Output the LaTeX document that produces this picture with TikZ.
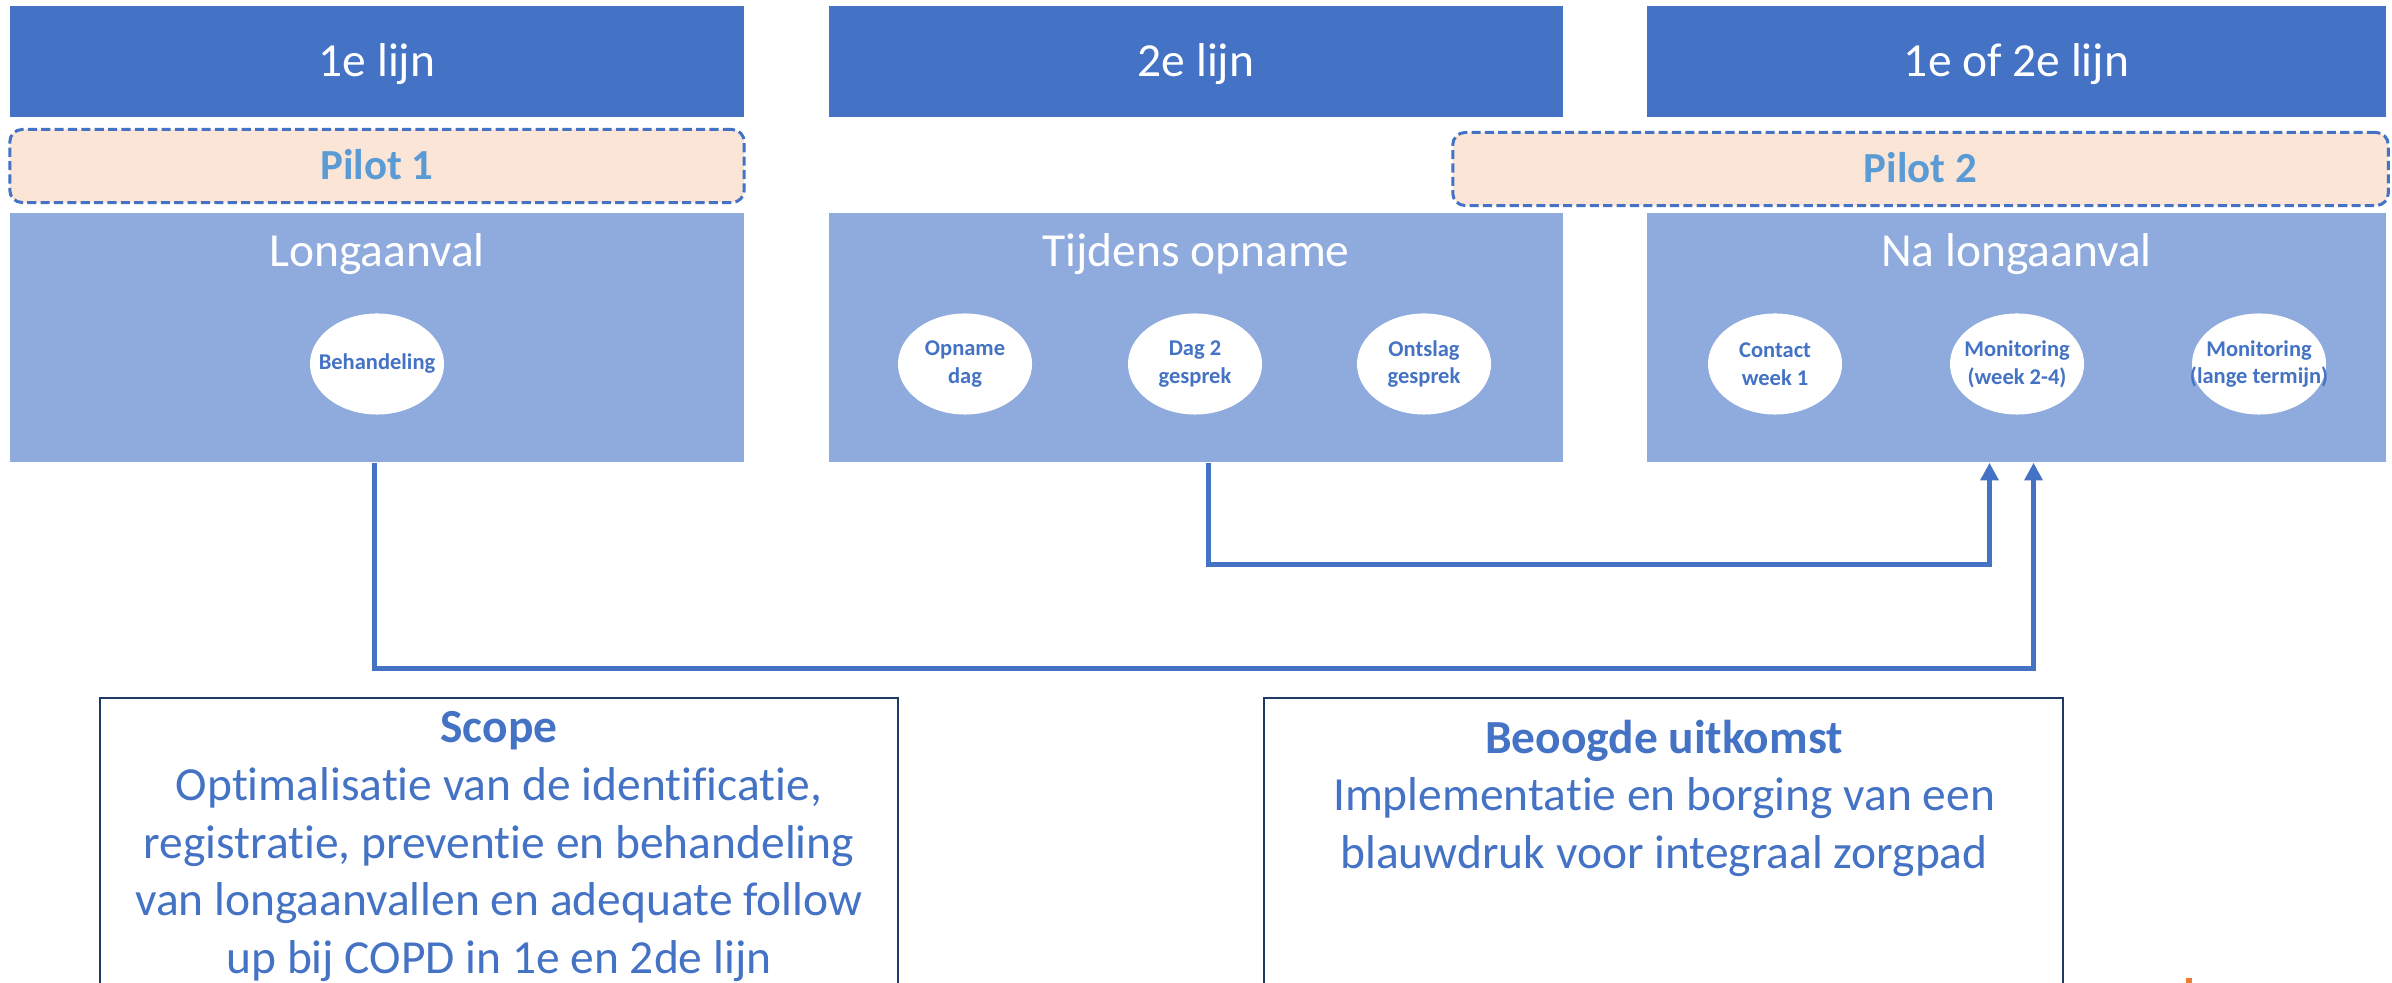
\documentclass[tikz,border=0pt]{standalone}
\usepackage{fontspec}
\setmainfont[Ligatures=NoCommon]{Carlito}
\usetikzlibrary{arrows.meta,shapes.geometric}
\definecolor{hdr}{RGB}{68,114,196}
\definecolor{cnt}{RGB}{143,170,220}
\definecolor{pfill}{RGB}{251,229,214}
\definecolor{ptext}{RGB}{91,155,213}
\definecolor{navy}{RGB}{32,56,100}
\definecolor{orng}{RGB}{237,125,49}
\newcommand{\zb}[1]{\makebox[0pt]{#1}}
\tikzset{
  hdrbox/.style={rectangle, fill=hdr, draw=none, minimum width=7.34cm, minimum height=1.11cm, inner sep=0pt,
    text=white, font=\fontsize{13.5}{16}\selectfont, text height=8.53pt, text depth=0pt},
  cntbox/.style={rectangle, fill=cnt, draw=none, minimum width=7.34cm, minimum height=2.49cm, inner sep=0pt},
  cnttitle/.style={text=white, font=\fontsize{13.5}{16}\selectfont, inner sep=0pt, anchor=base},
  pilotbox/.style={rectangle, rounded corners=3.5pt, fill=pfill, draw=hdr, line width=0.85pt,
    dash pattern=on 2.6pt off 1.2pt, minimum height=0.73cm, inner sep=0pt,
    text=ptext, font=\fontsize{12.2}{14}\selectfont\bfseries, text height=7.7pt, text depth=0pt},
  stepell/.style={ellipse, fill=white, draw=none, minimum width=1.34cm, minimum height=1.01cm, inner sep=0pt,
    align=center, text=hdr, font=\fontsize{6.4}{7.9}\selectfont\bfseries},
  conn/.style={draw=hdr, line width=1.42pt},
  bbox/.style={rectangle, draw=navy, line width=0.6pt, fill=white, minimum height=3.2cm, inner sep=0pt, anchor=north},
  btext/.style={align=center, text=hdr, font=\fontsize{13.5}{16.4}\selectfont, inner sep=0pt, anchor=north},
}
\begin{document}
\begin{tikzpicture}[x=0.01cm, y=-0.01cm]
\useasboundingbox (0,0) rectangle (2392,983);
\clip (0,0) rectangle (2392,983);
% headers
\node[hdrbox] (h1) at (377,61.5) {1e lijn};
\node[hdrbox] (h2) at (1196,61.5) {2e lijn};
\node[hdrbox, minimum width=7.39cm] (h3) at (2016.5,61.5) {1e of 2e lijn};
% pilots
\node[pilotbox, minimum width=7.34cm] (p1) at (377,166) {Pilot 1};
\node[pilotbox, minimum width=9.35cm, minimum height=0.73cm] (p2) at (1920.5,169) {Pilot 2};
% content boxes
\node[cntbox] (longa) at (377,337.5) {};
\node[cntbox] (tijdens) at (1196,337.5) {};
\node[cntbox, minimum width=7.39cm] (na) at (2016.5,337.5) {};
\node[cnttitle] (longat) at (377,267) {Longaanval};
\node[cnttitle] (tijdenst) at (1196,267) {Tijdens opname};
\node[cnttitle] (nat) at (2016.5,267) {Na longaanval};
% ellipses
\node[stepell] (e1) at (377,364) {\zb{Behandeling}};
\node[stepell] (e2) at (965,364) {\zb{Opname}\\\zb{dag}};
\node[stepell] (e3) at (1195,364) {\zb{Dag 2}\\\zb{gesprek}};
\node[stepell] (e4) at (1424,364) {\zb{Ontslag}\\\zb{gesprek}};
\node[stepell] (e5) at (1775,364) {\zb{Contact}\\\zb{week 1}};
\node[stepell] (e6) at (2017,364) {\zb{Monitoring}\\\zb{(week 2-4)}};
\node[stepell] (e7) at (2259,364) {\zb{Monitoring}\\\zb{(lange termijn)}};
% connectors
\draw[conn, -{Triangle[length=5pt,width=5pt]}] ([xshift=-0.03cm]longa.south) -- ++(0,206) -| ([xshift=0.17cm]na.south);
\draw[conn, -{Triangle[length=5pt,width=5pt]}] ([xshift=0.12cm]tijdens.south) -- ++(0,102) -| ([xshift=-0.27cm]na.south);
% bottom boxes
\node[bbox, minimum width=7.98cm] (scope) at (499,697) {};
\node[bbox, minimum width=7.99cm] (beoogd) at (1663.5,697) {};
\node[btext] (scopet) at (499,711) {\textbf{Scope}\\Optimalisatie van de identificatie,\\registratie, preventie en behandeling\\van longaanvallen en adequate follow\\up bij COPD in 1e en 2de lijn};
\node[btext] (beoogdt) at (1664,719) {\textbf{Beoogde uitkomst}\\Implementatie en borging van een\\blauwdruk voor integraal zorgpad};
% small orange mark
\fill[orng] (2186,978) rectangle (2192,983);
\end{tikzpicture}
\end{document}
